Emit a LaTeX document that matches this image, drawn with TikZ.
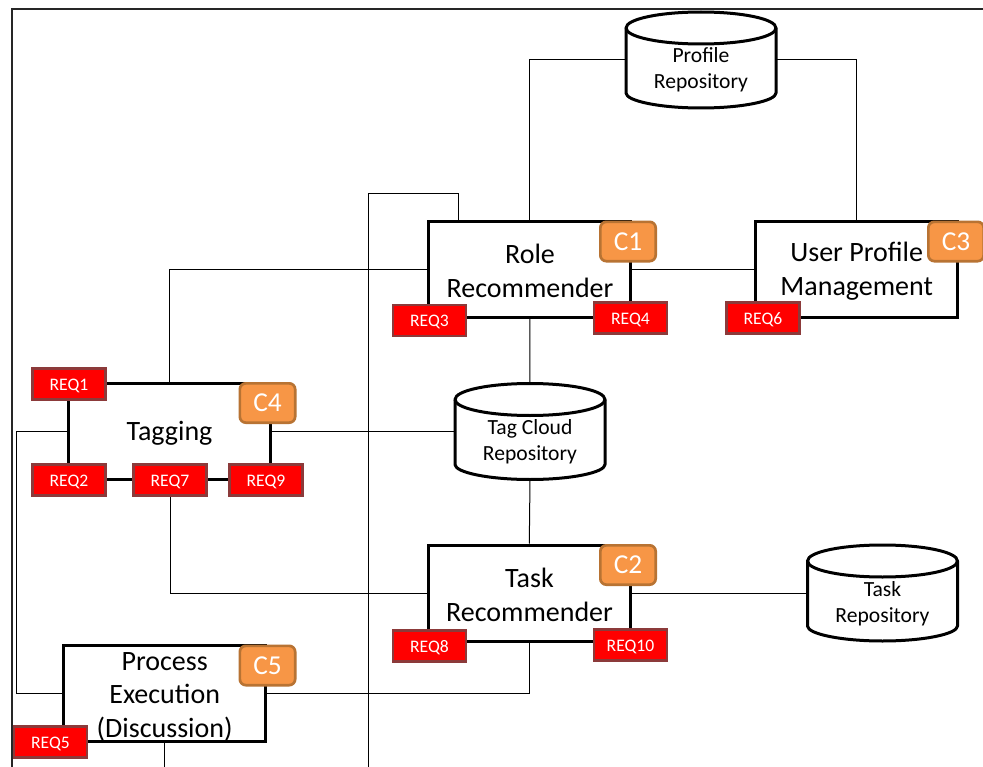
\documentclass[tikz,border=0pt]{standalone}
\usepackage{fontspec}
\setmainfont{Carlito}
\definecolor{reqedge}{HTML}{8C3A3A}
\definecolor{cfill}{HTML}{F79646}
\definecolor{cedge}{HTML}{B87333}
\tikzset{
  heavy/.style={line width=2.25pt,draw=black},
  wire/.style={line width=0.75pt,draw=black},
  compbox/.style={heavy,fill=white,rectangle,inner sep=0pt,minimum width=151.5pt,minimum height=72pt},
  complabel/.style={align=center,inner sep=0pt,font=\fontsize{21}{25.5}\selectfont},
  reqbox/.style={rectangle,fill=red,draw=reqedge,line width=1.9pt,inner sep=0pt,minimum width=55pt,minimum height=23pt,text=white,text height=11pt,text depth=2pt,font=\fontsize{13.2}{15}\selectfont},
  cbox/.style={rectangle,rounded corners=4.5pt,fill=cfill,draw=cedge,line width=2pt,inner sep=0pt,minimum width=41.5pt,minimum height=29.5pt,text=white,font=\fontsize{20.5}{24}\selectfont},
  cylbox/.style={rectangle,inner sep=0pt,minimum width=112.5pt,minimum height=72pt},
  cyltext/.style={align=center,inner sep=0pt,font=\fontsize{16.2}{19.5}\selectfont},
}
\newcommand{\cylshape}[5]{%
  \node[cylbox] (#1) at (#2,#3) {};
  \begin{scope}[shift={(#2,#3)}]
    \draw[heavy,fill=white,line join=round] (-75,-32) .. controls (-75,-41) and (-41,-48) .. (0,-48) .. controls (41,-48) and (75,-41) .. (75,-32) -- (75,33) .. controls (75,41) and (41,48) .. (0,48) .. controls (-41,48) and (-75,41) .. (-75,33) -- cycle;
    \draw[heavy] (-75,-32) .. controls (-75,-23) and (-41,-16) .. (0,-16) .. controls (41,-16) and (75,-23) .. (75,-32);
  \end{scope}
  \node[cyltext] (#1text) at (#2,#3+#4) {#5};
}
\begin{document}
\begin{tikzpicture}[x=0.75pt,y=-0.75pt]
\useasboundingbox (0,0) rectangle (983,767);
\clip (0,0) rectangle (983,767);
\fill[white] (0,0) rectangle (983,767);
% frame
\coordinate (frameTL) at (12,9);
\coordinate (frameTR) at (983,9);
\coordinate (frameBL) at (12,767);
\draw[line width=1.2pt,draw=black!85] (frameBL) -- (frameTL) -- (frameTR);
% components
\node[compbox] (role) at (529.8,269.7) {};
\node[complabel] (roletext) at (530,270.5) {Role\\Recommender};
\node[compbox] (profilemgmt) at (856.2,269.7) {};
\node[complabel] (profilemgmttext) at (856.7,271.5) {User Profile\\Management};
\node[compbox] (tagging) at (169.2,431.5) {};
\node[complabel] (taggingtext) at (169.5,433.5) {Tagging};
\node[compbox] (taskrec) at (529.3,593) {};
\node[complabel] (taskrectext) at (529.5,595) {Task\\Recommender};
\node[compbox] (process) at (164.7,693.5) {};
\node[complabel,font=\fontsize{21}{24.9}\selectfont] (processtext) at (164.7,696.8) {Process\\Execution\\(Discussion)};
% repositories
\cylshape{profilerepo}{701}{60}{9.5}{Profile\\Repository}
\cylshape{tagrepo}{530}{431.5}{10.5}{Tag Cloud\\Repository}
\cylshape{taskrepo}{882.5}{593}{10.5}{Task\\Repository}
% free ends
\coordinate (roleup) at (458.8,221);
\coordinate (bendA) at (458.8,193.5);
\coordinate (bendB) at (368.8,193.5);
\coordinate (offbottom) at (368.8,767);
\coordinate (processout) at (164.7,767);
\coordinate (leftrun) at (16.8,431.5);
% requirements
\node[reqbox] (req1) at (69,384) {REQ1};
\node[reqbox] (req2) at (69,480) {REQ2};
\node[reqbox] (req7) at (170,480) {REQ7};
\node[reqbox] (req9) at (266,480) {REQ9};
\node[reqbox] (req3) at (429.5,320.5) {REQ3};
\node[reqbox] (req4) at (630.5,318) {REQ4};
\node[reqbox] (req6) at (763,318) {REQ6};
\node[reqbox] (req8) at (429.5,646) {REQ8};
\node[reqbox] (req10) at (630.5,645) {REQ10};
\node[reqbox] (req5) at (50.5,742) {REQ5};
% connectors
\draw[wire] (profilerepo.west) -| (role.north);
\draw[wire] (profilerepo.east) -| (profilemgmt.north);
\draw[wire] (roleup) -- (bendA) -- (bendB) -- (offbottom);
\draw[wire] (role.west) -| (tagging.north);
\draw[wire] (role.east) -- (profilemgmt.west);
\draw[wire] (role.south) -- (tagrepo.north);
\draw[wire] (tagging.east) -- (tagrepo.west);
\draw[wire] (tagrepo.south) -- (taskrec.north);
\draw[wire] (req7.south) |- (taskrec.west);
\draw[wire] (taskrec.east) -- (taskrepo.west);
\draw[wire] (taskrec.south) |- (process.east);
\draw[wire] (tagging.west) -- (leftrun) |- (process.west);
\draw[wire] (process.south) -- (processout);
% category badges
\node[cbox] (c1) at (628,241.5) {C1};
\node[cbox] (c3) at (956,241.5) {C3};
\node[cbox] (c4) at (267.5,403) {C4};
\node[cbox] (c2) at (628,565) {C2};
\node[cbox] (c5) at (267.5,665.5) {C5};
\end{tikzpicture}
\end{document}
